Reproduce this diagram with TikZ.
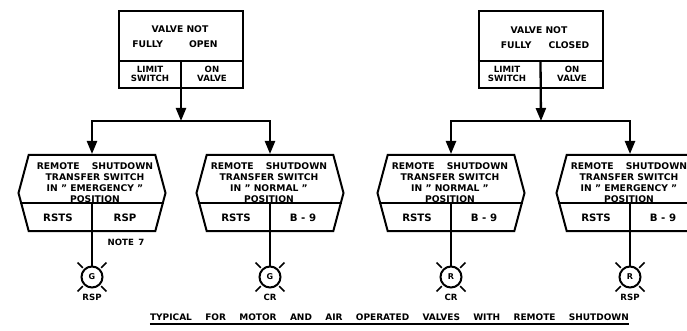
\documentclass[tikz,border=0pt]{standalone}
\usepackage{fontspec}
\setmainfont{DejaVu Sans}
\usetikzlibrary{shapes.geometric, shapes.symbols, arrows.meta, positioning}
\tikzstyle{valvebox} = [rectangle, minimum width=124pt, minimum height=77pt, draw=black, line width=2pt, inner sep=0pt]
\tikzstyle{switchbox} = [signal, signal to=east and west, signal pointer angle=150, minimum width=147pt, minimum height=76pt, draw=black, line width=2pt, inner sep=0pt]
\tikzstyle{lamp} = [circle, minimum size=21pt, draw=black, line width=2pt, inner sep=0pt, font=\fontsize{8}{9}\bfseries\selectfont]
\tikzstyle{txt} = [inner sep=0pt, align=center, font=\fontsize{9.2}{11.1}\bfseries\selectfont]
\tikzstyle{smalltxt} = [txt, font=\fontsize{8.6}{8.5}\bfseries\selectfont]
\tikzstyle{celltxt} = [txt, font=\fontsize{10.2}{11}\bfseries\selectfont]
\tikzstyle{arrow} = [line width=2.3pt, -{Triangle[length=13pt, width=10pt]}]
\tikzstyle{wire} = [line width=2pt]
\tikzstyle{ray} = [line width=1.6pt]
\begin{document}
\begin{tikzpicture}[x=1pt, y=-1pt]
    \useasboundingbox (0,0) rectangle (687,331);
    % Valve boxes
    \node (vopen) [valvebox] at (181,49.5) {};
    \node (vopentxt) [txt, below=15pt of vopen.north, xshift=-1pt] {VALVE NOT\\[4pt]FULLY\hspace{26pt}OPEN\hspace*{10pt}};
    \node (vopenlimit) [smalltxt] at (150,74) {LIMIT\\SWITCH};
    \node (vopenon) [smalltxt] at (212,74) {ON\\VALVE};
    \node (vclosed) [valvebox] at (540.5,49.5) {};
    \node (vclosedtxt) [txt, below=16pt of vclosed.north, xshift=-1.5pt] {VALVE NOT\\[4pt]\hspace*{12pt}FULLY\hspace{17pt}CLOSED};
    \node (vclosedlimit) [smalltxt] at (507,74) {LIMIT\\SWITCH};
    \node (vclosedon) [smalltxt] at (572,74) {ON\\VALVE};
    \draw [wire] ([yshift=-11.5pt]vopen.west) -- ([yshift=-11.5pt]vopen.east);
    \draw [wire] ([yshift=-11.5pt]vclosed.west) -- ([yshift=-11.5pt]vclosed.east);

    % Transfer switch boxes
    \foreach \name/\cx/\tx/\swmode/\lefttxt/\righttxt in {swa/92/3/EMERGENCY/RSTS/RSP, swb/270/-1/NORMAL/RSTS/B - 9, swc/451/-1/NORMAL/RSTS/B - 9, swd/630/-1/EMERGENCY/RSTS/B - 9} {
        \node (\name) [switchbox] at (\cx,193) {};
        \node (\name txt) [txt, below=8pt of \name.north, xshift=\tx pt] {REMOTE\hspace{12pt}SHUTDOWN\\TRANSFER SWITCH\\IN " \swmode\ "\\POSITION};
        \node (\name l) [celltxt] at (\cx-34,218) {\lefttxt};
        \node (\name r) [celltxt] at (\cx+33,218) {\righttxt};
        \draw [wire] ([xshift=2.6pt,yshift=-10pt]\name.west) -- ([xshift=-2.6pt,yshift=-10pt]\name.east);
    }

    % Lamps
    \foreach \name/\cx/\col/\place/\sw in {lpa/92/G/RSP/swa, lpb/270/G/CR/swb, lpc/451/R/CR/swc, lpd/630/R/RSP/swd} {
        \node (\name) [lamp] at (\cx,277) {\col};
        \node (\name txt) [smalltxt, below=17pt of \name.center] {\place};
        \draw [wire] ([yshift=-10pt]\sw.center) -- (\name.north);
        \foreach \a in {45,135,225,315}
            \draw [ray] (\name.center) ++(\a:13) -- ++(\a:7.5);
    }
    \node (note) [smalltxt] at (126,242) {NOTE\enspace 7};

    % Arrows
    \coordinate (junca) at (181,121);
    \coordinate (juncb) at (541,121);
    \draw [arrow] ([yshift=-11.5pt]vopen.center) -- (junca);
    \draw [arrow] (junca) -| (swa.north);
    \draw [arrow] (junca) -| (swb.north);
    \draw [arrow] ([yshift=-11.5pt]vclosed.center) -- (juncb);
    \draw [arrow] (juncb) -| (swc.north);
    \draw [arrow] (juncb) -| (swd.north);

    % Title
    \node (title) [txt, font=\fontsize{9}{10}\bfseries\selectfont] at (389.5,317) {TYPICAL\hspace{10.2pt} FOR\hspace{10.2pt} MOTOR\hspace{10.2pt} AND\hspace{10.2pt} AIR\hspace{10.2pt} OPERATED\hspace{10.2pt} VALVES\hspace{10.2pt} WITH\hspace{10.2pt} REMOTE\hspace{10.2pt} SHUTDOWN};
    \draw [line width=1.7pt] ([yshift=-3.5pt]title.south west) -- ([yshift=-3.5pt]title.south east);
\end{tikzpicture}
\end{document}
